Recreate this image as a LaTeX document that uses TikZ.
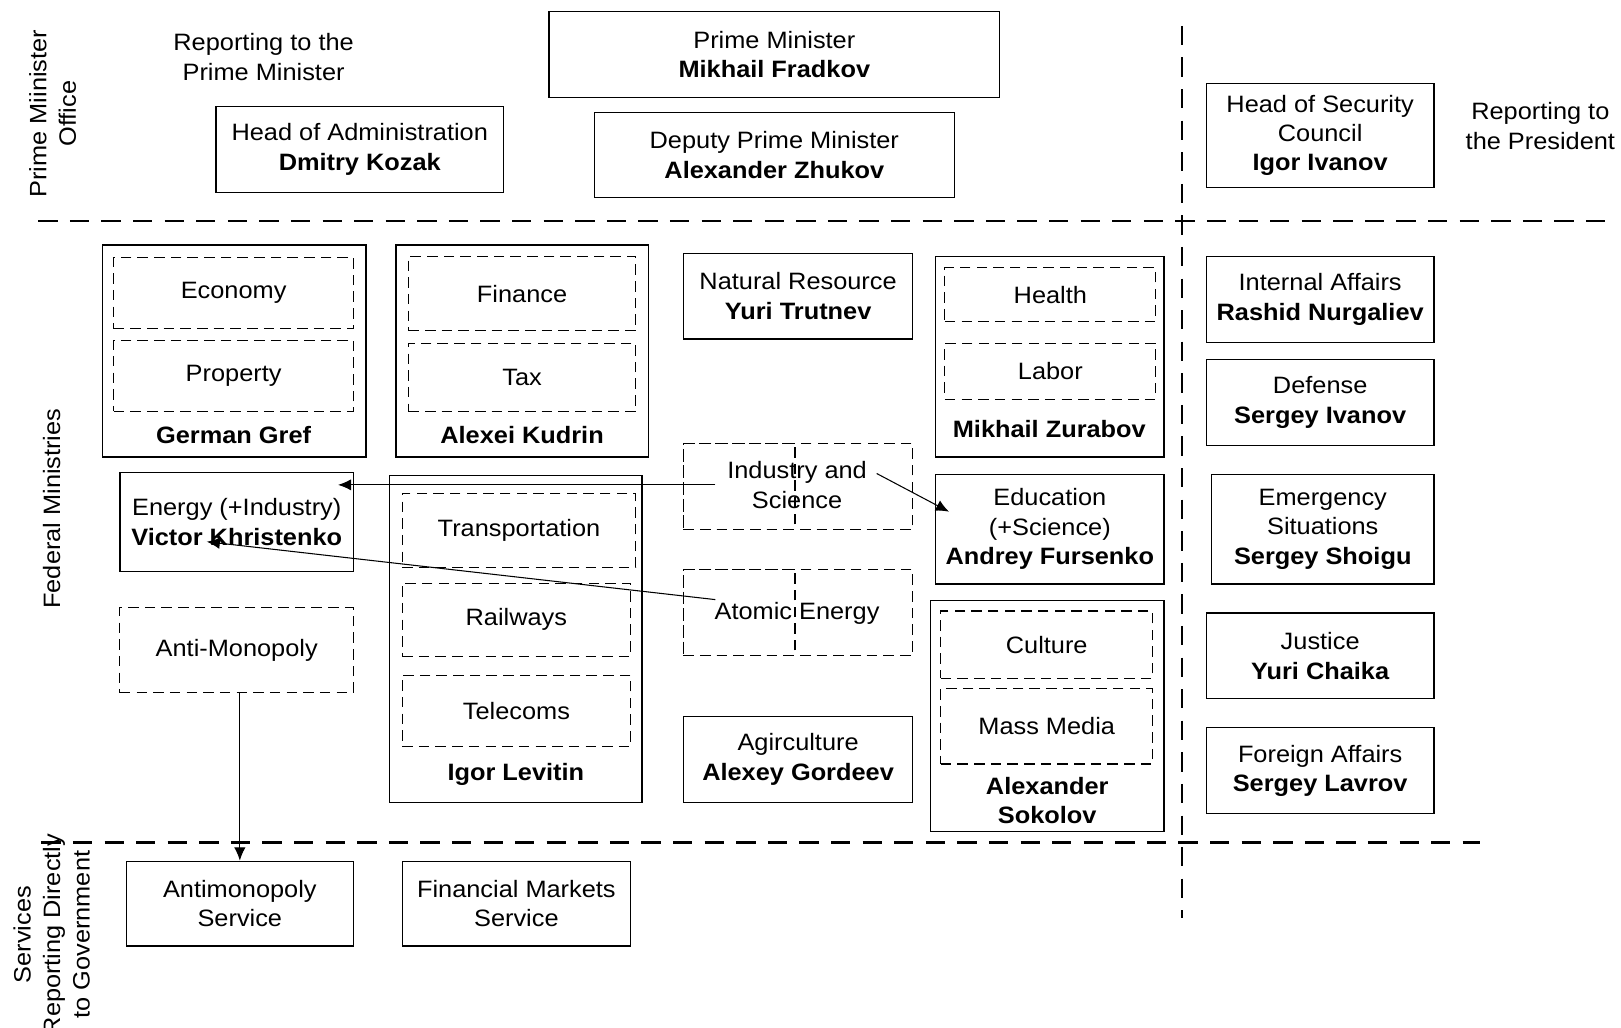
\documentclass[tikz,border=0pt]{standalone}
\usepackage{fontspec}
\setmainfont[FakeStretch=1.07]{Liberation Sans}
\usepackage{tikz}
\usetikzlibrary{arrows.meta}
\pgfdeclarelayer{edgelayer}
\pgfdeclarelayer{nodelayer}
\pgfsetlayers{edgelayer,nodelayer,main}
\tikzstyle{none}=[inner sep=0pt, align=center]
\tikzstyle{minister}=[draw, line width=0.7pt, align=center, inner sep=0pt]
\tikzstyle{portfolio}=[draw, line width=0.6pt, dash pattern=on 6pt off 3.5pt, align=center, inner sep=0pt]
\tikzstyle{divider}=[line width=1.3pt, dash pattern=on 11pt off 7pt]
\tikzstyle{link}=[line width=0.6pt, -{Latex[length=7.5pt,width=6.5pt]}]
\tikzset{wh/.style 2 args={minimum width=#1*0.0207cm, minimum height=#2*0.0207cm}}

\begin{document}
\begin{tikzpicture}[x=0.0207cm, y=-0.0207cm, font=\fontsize{13.5}{16.8}\selectfont]
					\useasboundingbox (0, 0) rectangle (1568, 994);
					\begin{pgfonlayer}{nodelayer}
						\node [style=none, rotate=90] (0) at (51, 110) {Prime Miinister\\Office};
						\node [style=none] (1) at (255, 55) {Reporting to the\\Prime Minister};
						\node [style=minister, wh={278}{83}] (2) at (348, 144.5) {Head of Administration\\\textbf{Dmitry Kozak}};
						\node [style=minister, wh={436}{83}] (3) at (749, 52.5) {Prime Minister\\\textbf{Mikhail Fradkov}};
						\node [style=minister, wh={348}{82}] (4) at (749, 150) {Deputy Prime Minister\\\textbf{Alexander Zhukov}};
						\node [style=minister, wh={220}{100}] (5) at (1277, 131) {Head of Security\\Council\\\textbf{Igor Ivanov}};
						\node [style=none] (6) at (1490, 122) {Reporting to\\the President};
						\node [style=none, rotate=90] (7) at (50, 492) {Federal Ministries};
						\node [style=minister, wh={255}{205}] (8) at (226.5, 339.5) {};
						\node [style=portfolio, wh={232}{69}] (9) at (226, 283.5) {Economy};
						\node [style=portfolio, wh={232}{69}] (10) at (226, 363.5) {Property};
						\node [style=none] (11) at (226, 421) {\textbf{German Gref}};
						\node [style=minister, wh={244}{205}] (12) at (505, 339.5) {};
						\node [style=portfolio, wh={220}{72}] (13) at (505, 284) {Finance};
						\node [style=portfolio, wh={220}{66}] (14) at (505, 365) {Tax};
						\node [style=none] (15) at (505, 421) {\textbf{Alexei Kudrin}};
						\node [style=minister, wh={222}{83}] (16) at (772, 286.5) {Natural Resource\\\textbf{Yuri Trutnev}};
						\node [style=minister, wh={221}{194}] (17) at (1015.5, 345) {};
						\node [style=portfolio, wh={204}{52}] (18) at (1016, 285) {Health};
						\node [style=portfolio, wh={204}{54}] (19) at (1016, 359) {Labor};
						\node [style=none] (20) at (1015, 415) {\textbf{Mikhail Zurabov}};
						\node [style=minister, wh={220}{83}] (21) at (1277, 289.5) {Internal Affairs\\\textbf{Rashid Nurgaliev}};
						\node [style=minister, wh={220}{83}] (22) at (1277, 389.5) {Defense\\\textbf{Sergey Ivanov}};
						\node [style=portfolio, wh={222}{83}] (23) at (772, 470.5) {};
						\node [style=portfolio, wh={108}{83}] (24) at (715, 470.5) {};
						\node [style=none] (25) at (771, 469) {Industry and\\Science};
						\node [style=minister, wh={226}{96}] (26) at (229, 505) {Energy (+Industry)\\\textbf{Victor Khristenko}};
						\node [style=minister, wh={244}{316}] (27) at (499, 618) {};
						\node [style=portfolio, wh={226}{72}] (28) at (502, 513) {Transportation};
						\node [style=portfolio, wh={221}{71}] (29) at (499.5, 599.5) {Railways};
						\node [style=portfolio, wh={221}{69}] (30) at (499.5, 687.5) {Telecoms};
						\node [style=none] (31) at (499, 749) {\textbf{Igor Levitin}};
						\node [style=minister, wh={221}{106}] (32) at (1015.5, 512) {Education\\(+Science)\\\textbf{Andrey Fursenko}};
						\node [style=minister, wh={215}{106}] (33) at (1279.5, 512) {Emergency\\Situations\\\textbf{Sergey Shoigu}};
						\node [style=portfolio, wh={222}{83}] (34) at (772, 592.5) {};
						\node [style=portfolio, wh={108}{83}] (35) at (715, 592.5) {};
						\node [style=none] (36) at (771, 593) {Atomic Energy};
						\node [style=portfolio, wh={226}{82}] (37) at (229, 629) {Anti-Monopoly};
						\node [style=minister, wh={226}{223}] (38) at (1013, 692.5) {};
						\node [style=portfolio, wh={205}{65}] (39) at (1012.5, 623.5) {Culture};
						\node [style=portfolio, wh={205}{73}] (40) at (1012.5, 702.5) {Mass Media};
						\node [style=none] (41) at (1013, 774.5) {\textbf{Alexander}\\\textbf{Sokolov}};
						\node [style=minister, wh={220}{83}] (42) at (1277, 634.5) {Justice\\\textbf{Yuri Chaika}};
						\node [style=minister, wh={220}{83}] (43) at (1277, 745.5) {Foreign Affairs\\\textbf{Sergey Lavrov}};
						\node [style=minister, wh={222}{83}] (44) at (772, 734.5) {Agirculture\\\textbf{Alexey Gordeev}};
						\node [style=none, rotate=90] (45) at (50, 904) {Services\\Reporting Directly\\to Government};
						\node [style=minister, wh={220}{82}] (46) at (232, 874) {Antimonopoly\\Service};
						\node [style=minister, wh={221}{82}] (47) at (499.5, 874) {Financial Markets\\Service};
						\node [style=none] (48) at (37, 214) {};
						\node [style=none] (49) at (1560, 214) {};
						\node [style=none] (50) at (1143, 25) {};
						\node [style=none] (51) at (1143, 888) {};
						\node [style=none] (52) at (40, 815) {};
						\node [style=none] (53) at (1432, 815) {};
						\node [style=none] (54) at (692, 469) {};
						\node [style=none] (55) at (327, 469) {};
						\node [style=none] (56) at (692, 580) {};
						\node [style=none] (57) at (200, 524) {};
						\node [style=none] (58) at (848, 458) {};
						\node [style=none] (59) at (918, 495) {};
					\end{pgfonlayer}
					\begin{pgfonlayer}{edgelayer}
						\draw [style=divider] (48.center) to (49.center);
						\draw [style=divider] (50.center) to (51.center);
						\draw [style=divider] (52.center) to (53.center);
						\draw [style=link] (54.center) to (55.center);
						\draw [style=link] (56.center) to (57.center);
						\draw [style=link] (58.center) to (59.center);
						\draw [style=link] (37.south -| 46.north) to (46.north);
					\end{pgfonlayer}
				\end{tikzpicture}
\end{document}
